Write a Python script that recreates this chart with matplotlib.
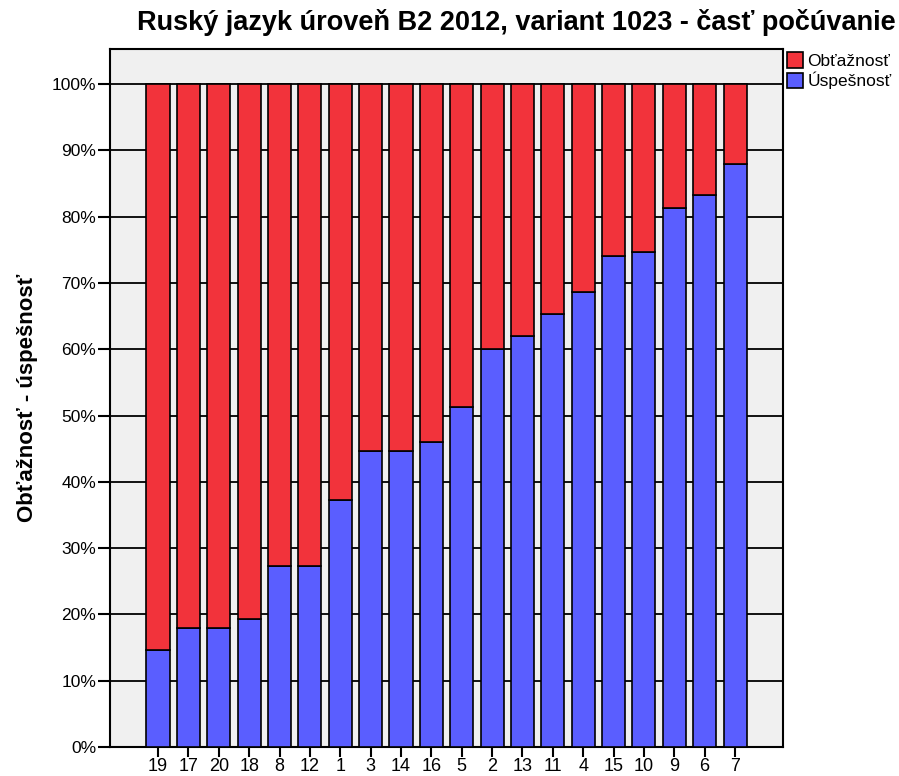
import matplotlib
matplotlib.use("Agg")
import matplotlib.pyplot as plt
import numpy as np

plt.rcParams['font.family'] = ['Liberation Sans', 'DejaVu Sans']

# poradie uloh podla uspesnosti
ulohy = ['19', '17', '20', '18', '8', '12', '1', '3', '14', '16',
         '5', '2', '13', '11', '4', '15', '10', '9', '6', '7']
uspesnost = [14.7, 18.0, 18.0, 19.3, 27.3, 27.3, 37.3, 44.7, 44.7, 46.0,
             51.3, 60.0, 62.0, 65.3, 68.7, 74.0, 74.7, 81.3, 83.3, 88.0]
obtaznost = [100 - u for u in uspesnost]

y_ticks = [0, 10, 20, 30, 40, 50, 60, 70, 80, 90, 100]

fig = plt.figure(figsize=(8.99, 7.76), dpi=100)
ax = fig.add_axes([0.1224, 0.0374, 0.7486, 0.8995])
ax.set_facecolor('#F0F0F0')

x = np.arange(len(ulohy))
ax.bar(x, uspesnost, width=0.76, color='#5A5EFF', edgecolor='black',
       linewidth=1.2, label='Úspešnosť', zorder=3)
ax.bar(x, obtaznost, width=0.76, bottom=uspesnost, color='#F2333B',
       edgecolor='black', linewidth=1.2, label='Obťažnosť', zorder=3)

ax.set_xlim(-1.58, len(ulohy) - 1 + 1.58)
ax.set_ylim(0, 105.3)
ax.set_yticks(y_ticks)
ax.set_yticklabels([f'{t}%' for t in y_ticks])
ax.set_xticks(x)
ax.set_xticklabels(ulohy)
ax.yaxis.grid(True, color='black', linewidth=1.3, zorder=1)
ax.set_axisbelow(True)

ax.tick_params(axis='y', length=9, width=1.5, labelsize=12.5, pad=1)
ax.tick_params(axis='x', length=7, width=1.5, labelsize=13, pad=1)
for sp in ax.spines.values():
    sp.set_linewidth(1.5)

ax.set_ylabel('Obťažnosť - úspešnosť', fontsize=16, fontweight='bold',
              labelpad=10)

fig.text(0.996, 0.988, 'Ruský jazyk úroveň B2 2012, variant 1023 - časť počúvanie',
         ha='right', va='top', fontsize=19.5, fontweight='bold')

h, l = ax.get_legend_handles_labels()
leg = ax.legend(h[::-1], l[::-1], loc='upper left', bbox_to_anchor=(1.0, 1.0),
                frameon=False, fontsize=12.5, handlelength=0.95, handleheight=1.0,
                handletextpad=0.25, labelspacing=0.15, borderaxespad=0.15,
                borderpad=0.05)

fig.savefig('out.png', dpi=100)
